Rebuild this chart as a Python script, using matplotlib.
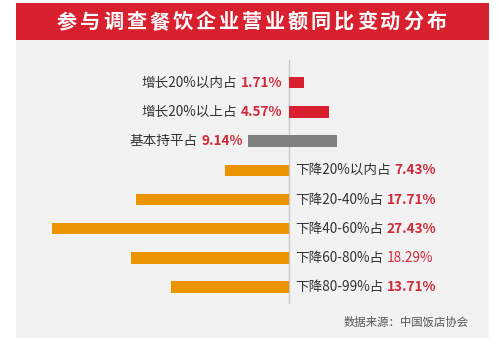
import matplotlib
matplotlib.use("Agg")
import matplotlib.pyplot as plt
from matplotlib.patches import Rectangle

plt.rcParams['font.family'] = ['Noto Sans CJK SC', 'DejaVu Sans']

title = "参与调查餐饮企业营业额同比变动分布"
labels = ["增长20%以内占", "增长20%以上占", "基本持平占", "下降20%以内占",
          "下降20-40%占", "下降40-60%占", "下降60-80%占", "下降80-99%占"]
values = [1.71, 4.57, 9.14, 7.43, 17.71, 27.43, 18.29, 13.71]
kinds = ["up", "up", "flat", "down", "down", "down", "down", "down"]
source = "数据来源：中国饭店协会"

colors = {"up": "#D8202E", "flat": "#808080", "down": "#EC9400"}
W, H = 499, 355
fig = plt.figure(figsize=(W / 100, H / 100), dpi=100)
fig.patch.set_facecolor("white")

def fx(px):
    return px / W

def fy(py):
    return 1 - py / H

# background panel and title bar
fig.patches.append(Rectangle((fx(16), fy(338)), fx(489) - fx(16), fy(40) - fy(338),
                             transform=fig.transFigure, facecolor="#F2F2F2", edgecolor="none", zorder=-2))
fig.patches.append(Rectangle((fx(16), fy(40)), fx(489) - fx(16), fy(3) - fy(40),
                             transform=fig.transFigure, facecolor="#D8202E", edgecolor="none", zorder=-1))
n = len(title)
step = 23.1
start = 251.7 - step * (n - 1) / 2
for i, ch in enumerate(title):
    fig.text(fx(start + i * step), fy(21.5), ch, color="white", fontsize=14.5,
             fontweight="bold", ha="center", va="center")

# main axes: x in %, y in rows
px_per = 8.65
x0 = 289.3
ax = fig.add_axes([fx(16), fy(338), fx(489) - fx(16), fy(40) - fy(338)])
ax.set_zorder(5)
ax.set_xlim((16 - x0) / px_per, (489 - x0) / px_per)
row0, rstep = 82.7, 29.2
ax.set_ylim((338 - row0) / rstep, (40 - row0) / rstep)
ax.axis("off")
ax.patch.set_alpha(0)

ax.plot([0, 0], [(60 - row0) / rstep, (303 - row0) / rstep], color="#C9C9C9", lw=1, zorder=1)

bh = 11.5 / rstep
fig.canvas.draw()
r = fig.canvas.get_renderer()
inv = ax.transData.inverted()
fs = 9.8
for i, (lab, v, k) in enumerate(zip(labels, values, kinds)):
    if k == "up":
        ax.barh(i, v, left=0, height=bh, color=colors[k], zorder=2)
        xr = -0.77
    elif k == "flat":
        left = -0.5 * v - 0.2
        ax.barh(i, v * 1.13, left=left, height=bh, color=colors[k], zorder=2)
        xr = left - 0.55
    else:
        ax.barh(i, -v, left=0, height=bh, color=colors[k], zorder=2)
        xr = None
    pct = f"{v:.2f}%"
    wt = "normal" if v == 18.29 else "bold"
    if xr is not None:
        t2 = ax.text(xr, i, pct, color="#D02A3A", fontsize=fs, fontweight=wt, ha="right", va="center")
        bb = t2.get_window_extent(renderer=r)
        xl = inv.transform((bb.x0 - 4, 0))[0]
        ax.text(xl, i, lab, color="#333333", fontsize=fs, ha="right", va="center")
    else:
        t1 = ax.text(0.66, i, lab, color="#333333", fontsize=fs, ha="left", va="center")
        bb = t1.get_window_extent(renderer=r)
        xl = inv.transform((bb.x1 + 3.5, 0))[0]
        ax.text(xl, i, pct, color="#D02A3A", fontsize=fs, fontweight=wt, ha="left", va="center")

fig.text(fx(469), fy(322), source, color="#555555", fontsize=8.2, ha="right", va="center")

fig.savefig("out.png", dpi=100)
